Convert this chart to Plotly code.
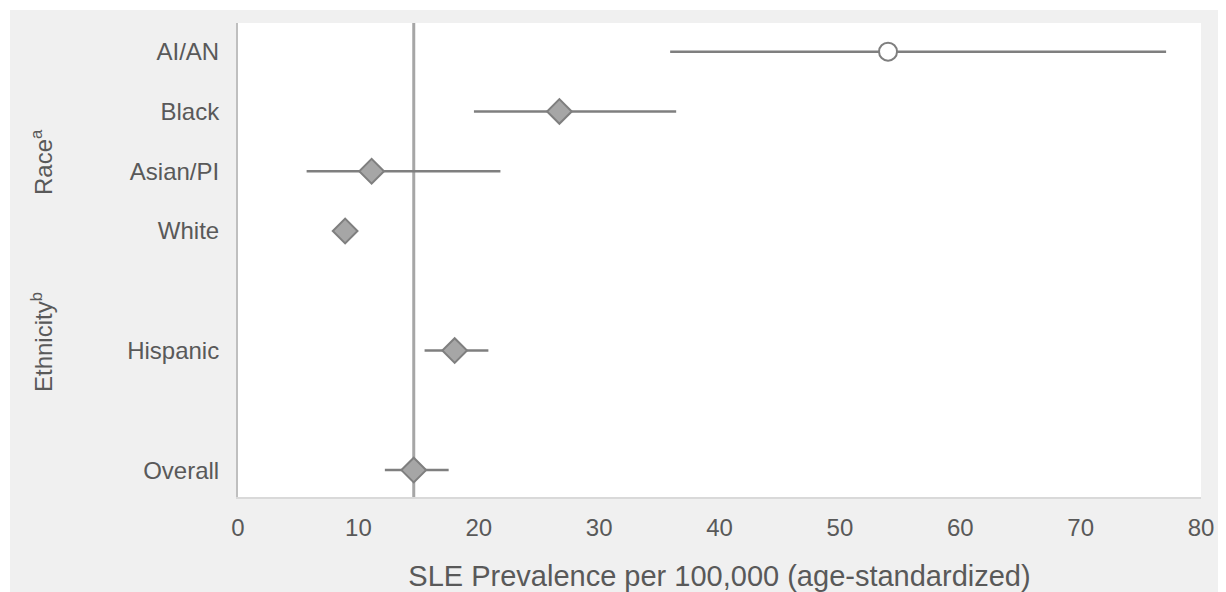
import plotly.graph_objects as go

categories = ["AI/AN", "Black", "Asian/PI", "White", "Hispanic", "Overall"]
y_pos = [7, 6, 5, 4, 2, 0]
prevalence = [54.0, 26.7, 11.1, 8.9, 18.0, 14.6]
ci_low = [35.9, 19.6, 5.7, 8.4, 15.5, 12.2]
ci_high = [77.1, 36.4, 21.8, 9.4, 20.8, 17.5]
x_ticks = [0, 10, 20, 30, 40, 50, 60, 70, 80]
overall_value = prevalence[-1]

# page has an 8px body margin; figure sized to fill the rest
W, H = 1218, 584
L, R, T, B = 230, 25, 15, 95
pw, ph = W - L - R, H - T - B

def px_x(p):
    return (p - L) / pw

def px_y(p):
    return (H - B - p) / ph

FONT = "Liberation Sans, Arial, sans-serif"
text_col = "#595959"
line_col = "#7f7f7f"

fig = go.Figure()

idx_d = [i for i in range(len(categories)) if categories[i] != "AI/AN"]
idx_c = [i for i in range(len(categories)) if categories[i] == "AI/AN"]

def add(idxs, symbol, fill, size):
    fig.add_trace(go.Scatter(
        x=[prevalence[i] for i in idxs],
        y=[y_pos[i] for i in idxs],
        mode="markers",
        marker=dict(symbol=symbol, size=size, color=fill,
                    line=dict(color=line_col, width=2)),
        error_x=dict(type="data", symmetric=False,
                     array=[ci_high[i] - prevalence[i] for i in idxs],
                     arrayminus=[prevalence[i] - ci_low[i] for i in idxs],
                     color=line_col, thickness=2.5, width=0),
        showlegend=False,
        hoverinfo="x+y",
    ))

add(idx_d, "diamond", "#a6a6a6", 19)
add(idx_c, "circle", "white", 18)

shapes = [
    dict(type="rect", xref="paper", yref="paper", layer="below",
         x0=px_x(2), x1=px_x(W + 10), y0=px_y(H + 10), y1=px_y(2),
         fillcolor="#f0f0f0", line=dict(width=0)),
    dict(type="rect", xref="paper", yref="paper", layer="below",
         x0=0, x1=1, y0=0, y1=1, fillcolor="white", line=dict(width=0)),
    dict(type="line", xref="x", yref="paper", layer="below",
         x0=overall_value, x1=overall_value, y0=0, y1=1,
         line=dict(color="#a6a6a6", width=3)),
]

annotations = [
    dict(text="Race<sup>a</sup>", x=px_x(34), y=px_y(154), xref="paper", yref="paper",
         textangle=-90, showarrow=False, font=dict(size=24, color=text_col, family=FONT),
         xanchor="center", yanchor="middle"),
    dict(text="Ethnicity<sup>b</sup>", x=px_x(34), y=px_y(334), xref="paper", yref="paper",
         textangle=-90, showarrow=False, font=dict(size=24, color=text_col, family=FONT),
         xanchor="center", yanchor="middle"),
]

fig.update_layout(
    width=W, height=H,
    margin=dict(l=L, r=R, t=T, b=B, pad=0),
    paper_bgcolor="white", plot_bgcolor="white",
    font=dict(family=FONT, color=text_col, size=24),
    shapes=shapes, annotations=annotations,
    xaxis=dict(range=[0, 80], tickvals=x_ticks, showgrid=False, zeroline=False,
               showline=True, linecolor="#d9d9d9", linewidth=2, automargin=False,
               ticks="", tickfont=dict(size=24, color=text_col),
               ticklabelstandoff=8,
               title=dict(text="SLE Prevalence per 100,000 (age-standardized)",
                          font=dict(size=29, color=text_col), standoff=26)),
    yaxis=dict(range=[-0.45, 7.48], tickvals=y_pos, ticktext=categories,
               showgrid=False, zeroline=False, showline=True, automargin=False,
               linecolor="#bfbfbf", linewidth=2, ticks="",
               ticklabelstandoff=12, tickfont=dict(size=24, color=text_col)),
)

fig.write_html("out.html")
